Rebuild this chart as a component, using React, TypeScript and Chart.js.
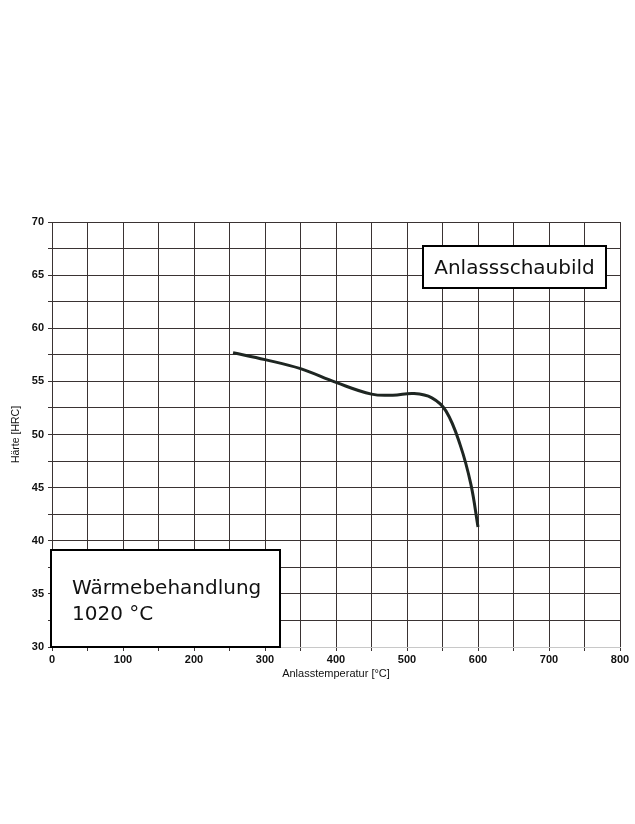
import React, { useEffect, useRef } from "react";
import Chart from "chart.js/auto";

// Anlasstemperatur [°C] vs Härte [HRC]
const temperatures = [255, 300, 350, 400, 450, 480, 510, 535, 555, 575, 590, 600];
const hardness = [57.7, 57.05, 56.2, 54.9, 53.8, 53.7, 53.85, 53.45, 52.2, 49.0, 45.3, 41.3];

const xLabels = [0, 100, 200, 300, 400, 500, 600, 700, 800];
const yLabels = [30, 35, 40, 45, 50, 55, 60, 65, 70];

const chartTitle = "Anlassschaubild";
const treatmentLines = ["Wärmebehandlung", "1020 °C"];

const labelFont = "Liberation Sans, Arial, sans-serif";
const boxFont = "DejaVu Sans, Verdana, sans-serif";
const gridColor = "#3a3333";

// draws the two framed text boxes on top of the grid
const boxesPlugin = {
  id: "textBoxes",
  afterDatasetsDraw(chart: any) {
    const { ctx, chartArea } = chart;
    ctx.save();
    ctx.lineWidth = 2;
    ctx.strokeStyle = "#000";
    ctx.fillStyle = "#fff";

    // top right box
    const b1 = { x: 423, y: 246, w: 183, h: 42 };
    ctx.fillRect(b1.x, b1.y, b1.w, b1.h);
    ctx.strokeRect(b1.x, b1.y, b1.w, b1.h);
    ctx.fillStyle = "#111";
    ctx.font = `20px ${boxFont}`;
    ctx.textAlign = "center";
    ctx.textBaseline = "alphabetic";
    ctx.fillText(chartTitle, b1.x + b1.w / 2, 274);

    // bottom left box
    const b2 = { x: chartArea.left - 1, y: 550, w: 229, h: chartArea.bottom - 550 };
    ctx.fillStyle = "#fff";
    ctx.fillRect(b2.x, b2.y, b2.w, b2.h);
    ctx.strokeRect(b2.x, b2.y, b2.w, b2.h);
    ctx.fillStyle = "#111";
    ctx.textAlign = "left";
    treatmentLines.forEach((t, i) => ctx.fillText(t, 72, 594 + i * 26));
    ctx.restore();
  },
};

const TemperChart: React.FC = () => {
  const canvasRef = useRef<HTMLCanvasElement | null>(null);
  const chartInstance = useRef<Chart | null>(null);

  useEffect(() => {
    document.body.style.margin = "0";
    if (chartInstance.current) {
      chartInstance.current.destroy();
    }
    if (!canvasRef.current) return;

    chartInstance.current = new Chart(canvasRef.current, {
      type: "scatter",
      data: {
        datasets: [
          {
            data: temperatures.map((t, i) => ({ x: t, y: hardness[i] })),
            showLine: true,
            tension: 0.4,
            borderColor: "#1e2622",
            borderWidth: 3,
            pointRadius: 0,
          },
        ],
      },
      options: {
        animation: false,
        responsive: false,
        layout: { padding: { top: 222, right: 15, bottom: 142, left: 0 } },
        plugins: {
          legend: { display: false },
          tooltip: { enabled: false },
        },
        scales: {
          x: {
            type: "linear",
            min: xLabels[0],
            max: xLabels[xLabels.length - 1],
            afterFit: (axis: any) => {
              axis.height = 35;
            },
            grid: { color: gridColor, lineWidth: 1, tickLength: 4 },
            border: { color: "#c8c8c8", width: 1 },
            ticks: {
              stepSize: 50,
              autoSkip: false,
              maxRotation: 0,
              padding: 2,
              color: "#111",
              font: { family: labelFont, size: 11, weight: "bold" },
              callback: (v: any) => (xLabels.includes(v) ? String(v) : ""),
            },
            title: {
              display: true,
              text: "Anlasstemperatur [°C]",
              color: "#111",
              font: { family: labelFont, size: 11 },
              padding: { top: 0, bottom: 1.4 },
            },
          },
          y: {
            type: "linear",
            min: yLabels[0],
            max: yLabels[yLabels.length - 1],
            afterFit: (axis: any) => {
              axis.width = 52;
            },
            grid: { color: gridColor, lineWidth: 1, tickLength: 4 },
            border: { color: gridColor, width: 1 },
            ticks: {
              stepSize: 2.5,
              autoSkip: false,
              padding: 4,
              color: "#111",
              font: { family: labelFont, size: 11, weight: "bold" },
              callback: (v: any) => (yLabels.includes(v) ? String(v) : ""),
            },
            title: {
              display: true,
              text: "Härte [HRC]",
              color: "#111",
              font: { family: labelFont, size: 10.5 },
              padding: { top: 9.7, bottom: 0 },
            },
          },
        },
      },
      plugins: [boxesPlugin],
    } as any);

    return () => {
      if (chartInstance.current) {
        chartInstance.current.destroy();
        chartInstance.current = null;
      }
    };
  }, []);

  return (
    <div style={{ width: 635, height: 824, background: "#fff" }}>
      <canvas ref={canvasRef} width={635} height={824}></canvas>
    </div>
  );
};

export default function App() {
  return <TemperChart />;
}
